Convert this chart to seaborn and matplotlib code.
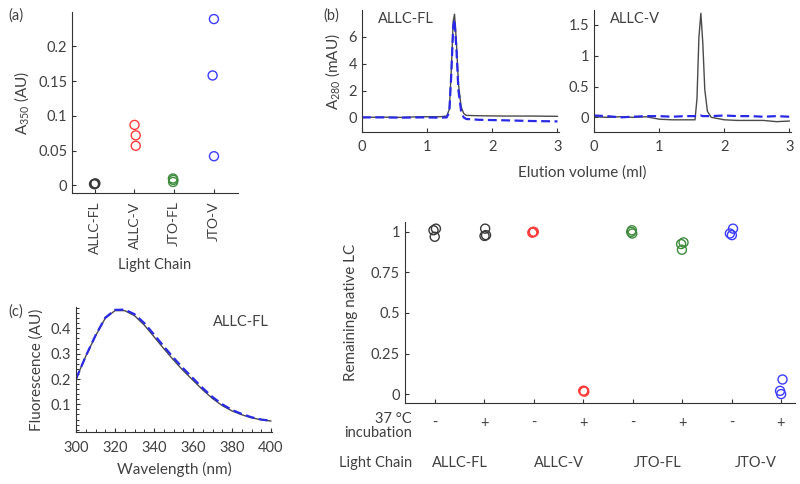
import numpy as np
import pandas as pd
import seaborn as sns
import matplotlib.pyplot as plt
import matplotlib.transforms as mtransforms
from matplotlib.ticker import FuncFormatter, MultipleLocator

# Panel (a): turbidity (A350) per light chain
chains = ['ALLC-FL', 'ALLC-V', 'JTO-FL', 'JTO-V']
a350_allc_fl = [0.002, 0.003, 0.002]
a350_allc_v = [0.087, 0.072, 0.057]
a350_jto_fl = [0.005, 0.008, 0.010]
a350_jto_v = [0.239, 0.158, 0.042]

# Panel (b): SEC chromatograms
elu_fl = [0, 0.3, 0.6, 0.9, 1.2, 1.3, 1.34, 1.37, 1.40, 1.42, 1.45, 1.48,
          1.52, 1.56, 1.6, 1.8, 2.2, 2.6, 3.0]
fl_before = [0.0, 0.02, 0.0, 0.05, 0.05, 0.1, 0.6, 3.5, 7.2, 7.7, 5.5, 2.5,
             0.8, 0.3, 0.15, 0.12, 0.1, 0.1, 0.08]
fl_after = [0.0, 0.0, -0.02, 0.0, -0.02, 0.0, 0.4, 3.2, 6.8, 7.3, 5.0, 2.0,
            0.5, 0.0, -0.12, -0.18, -0.22, -0.27, -0.3]
elu_v = [0, 0.2, 0.4, 0.6, 0.8, 1.0, 1.2, 1.4, 1.55, 1.58, 1.61, 1.64, 1.67,
         1.70, 1.74, 1.8, 2.0, 2.2, 2.4, 2.6, 2.8, 3.0]
v_before = [0.01, 0.0, 0.01, 0.0, 0.01, -0.03, -0.04, -0.04, -0.04, 0.3, 1.3,
            1.69, 1.2, 0.45, 0.1, 0.0, -0.04, -0.05, -0.05, -0.05, -0.07, -0.06]
v_after = [0.03, 0.02, 0.0, 0.01, 0.02, 0.02, 0.01, 0.02, 0.02, 0.02, 0.02,
           0.03, 0.02, 0.02, 0.02, 0.02, 0.03, 0.02, 0.02, 0.01, 0.02, 0.01]

# Panel (c): intrinsic fluorescence of ALLC-FL
wavelength = [300, 305, 310, 315, 320, 325, 330, 335, 340, 345, 350, 355, 360,
              365, 370, 375, 380, 385, 390, 395, 400]
fluo_before = [0.200, 0.290, 0.370, 0.440, 0.470, 0.470, 0.450, 0.413, 0.367,
               0.320, 0.275, 0.233, 0.195, 0.157, 0.123, 0.095, 0.074, 0.059,
               0.047, 0.039, 0.034]
fluo_after = [0.200, 0.290, 0.372, 0.442, 0.473, 0.474, 0.456, 0.421, 0.376,
              0.329, 0.284, 0.242, 0.203, 0.164, 0.129, 0.100, 0.078, 0.062,
              0.049, 0.040, 0.035]

# Panel (d): remaining native LC after incubation
incubation = ['-', '+']
native_allc_fl = [[1.01, 1.02, 0.97], [1.02, 0.98, 0.975]]
native_allc_v = [[1.0, 0.995, 1.0], [0.02, 0.02, 0.015]]
native_jto_fl = [[0.99, 1.0, 1.01], [0.935, 0.925, 0.89]]
native_jto_v = [[1.02, 0.99, 0.98], [0.09, 0.02, 0.0]]

colors = {'ALLC-FL': '#3a3a3a', 'ALLC-V': '#ff3c3c',
          'JTO-FL': '#3d8b3d', 'JTO-V': '#3c3cff'}
text_color = '#404040'

sns.set_style('ticks')
plt.rcParams['font.family'] = ['Lato', 'DejaVu Sans']
plt.rcParams['mathtext.default'] = 'regular'
plt.rcParams['font.size'] = 10.5
plt.rcParams['axes.labelsize'] = 11
plt.rcParams['text.color'] = text_color
plt.rcParams['axes.labelcolor'] = text_color
plt.rcParams['xtick.color'] = '#333333'
plt.rcParams['ytick.color'] = '#333333'
plt.rcParams['xtick.labelcolor'] = text_color
plt.rcParams['ytick.labelcolor'] = text_color
plt.rcParams['axes.edgecolor'] = '#333333'

fmt = FuncFormatter(lambda v, p: f'{v:g}')


def style_axis(ax):
    sns.despine(ax=ax)
    ax.tick_params(direction='in', length=3, width=0.8, labelsize=10.5)


def hollow(ax):
    for coll in ax.collections:
        fc = coll.get_facecolors()
        coll.set_edgecolors(fc)
        coll.set_facecolors('none')
        coll.set_linewidth(1.0)


fig = plt.figure(figsize=(8, 4.84), dpi=100)

# ---- (a)
ax_a = fig.add_axes([0.09, 0.601, 0.2075, 0.374])
df_a = pd.DataFrame({
    'chain': np.repeat(chains, 3),
    'a350': a350_allc_fl + a350_allc_v + a350_jto_fl + a350_jto_v,
})
np.random.seed(3)
sns.stripplot(data=df_a, x='chain', y='a350', hue='chain', order=chains,
              palette=colors, jitter=0.04, size=6.5, legend=False, ax=ax_a)
hollow(ax_a)
ax_a.set_xlim(-0.57, 3.6)
ax_a.set_ylim(-0.011, 0.249)
ax_a.set_yticks([0, 0.05, 0.1, 0.15, 0.2])
ax_a.yaxis.set_major_formatter(fmt)
style_axis(ax_a)
ax_a.tick_params(axis='x', rotation=90, pad=6, labelsize=10)
ax_a.set_xlabel('')
ax_a.set_ylabel('A$_{350}$ (AU)')
ax_a.yaxis.set_label_coords(-0.245, 0.5)
fig.text(155 / 800, 1 - 265 / 484, 'Light Chain', ha='center', va='center')
fig.text(8 / 800, 1 - 16 / 484, '(a)', ha='left', va='center')

# ---- (b)
ax_b1 = fig.add_axes([0.4525, 0.727, 0.246, 0.252])
ax_b2 = fig.add_axes([0.7425, 0.727, 0.246, 0.252])
for ax, x, yb, ya, label, ylim in [
        (ax_b1, elu_fl, fl_before, fl_after, 'ALLC-FL', (-1.1, 8.0)),
        (ax_b2, elu_v, v_before, v_after, 'ALLC-V', (-0.24, 1.74))]:
    sns.lineplot(x=x, y=yb, ax=ax, color='#4a4a4a', lw=1.0)
    sns.lineplot(x=x, y=ya, ax=ax, color='#2a2ae6', lw=1.6, ls=(0, (4, 2)))
    ax.set_xlim(0, 3.02)
    ax.set_ylim(*ylim)
    ax.set_xticks([0, 1, 2, 3])
    ax.yaxis.set_major_formatter(fmt)
    style_axis(ax)
    ax.tick_params(axis='x', pad=6)
    ax.text(0.08, 0.93, label, transform=ax.transAxes, ha='left', va='center')
ax_b1.set_yticks([0, 2, 4, 6])
ax_b2.set_yticks([0, 0.5, 1, 1.5])
ax_b1.set_ylabel('A$_{280}$ (mAU)')
ax_b1.yaxis.set_label_coords(-0.10, 0.5)
fig.text(582 / 800, 1 - 173 / 484, 'Elution volume (ml)', ha='center',
         va='center', fontsize=11)
fig.text(323 / 800, 1 - 16 / 484, '(b)', ha='left', va='center')

# ---- (c)
ax_c = fig.add_axes([0.095, 0.107, 0.245, 0.258])
sns.lineplot(x=wavelength, y=fluo_before, ax=ax_c, color='#4a4a4a', lw=1.0)
sns.lineplot(x=wavelength, y=fluo_after, ax=ax_c, color='#2a2ae6', lw=1.6,
             ls=(0, (4, 2)))
ax_c.set_xlim(300, 400.5)
ax_c.set_ylim(-0.01, 0.483)
ax_c.set_xticks([300, 320, 340, 360, 380, 400])
ax_c.set_yticks([0.1, 0.2, 0.3, 0.4])
ax_c.xaxis.set_minor_locator(MultipleLocator(5))
ax_c.yaxis.set_minor_locator(MultipleLocator(0.02))
ax_c.yaxis.set_major_formatter(fmt)
style_axis(ax_c)
ax_c.tick_params(which='minor', direction='in', length=2, width=0.7)
ax_c.tick_params(axis='x', pad=6)
ax_c.set_xlabel('Wavelength (nm)')
ax_c.set_ylabel('Fluorescence (AU)')
ax_c.xaxis.set_label_coords(0.5, -0.24)
ax_c.yaxis.set_label_coords(-0.163, 0.5)
ax_c.text(0.70, 0.88, 'ALLC-FL', transform=ax_c.transAxes, ha='left', va='center')
fig.text(8 / 800, 1 - 312 / 484, '(c)', ha='left', va='center')

# ---- (d)
ax_d = fig.add_axes([0.506, 0.167, 0.4875, 0.374])
rows = []
for chain, vals in zip(chains, [native_allc_fl, native_allc_v,
                                native_jto_fl, native_jto_v]):
    for inc, reps in zip(incubation, vals):
        for v in reps:
            rows.append({'chain': chain, 'cond': f'{chain} {inc}', 'native': v})
df_d = pd.DataFrame(rows)
cond_order = [f'{c} {i}' for c in chains for i in incubation]
np.random.seed(7)
sns.stripplot(data=df_d, x='cond', y='native', hue='chain', order=cond_order,
              palette=colors, jitter=0.035, size=6.5, legend=False, ax=ax_d)
hollow(ax_d)
ax_d.set_xlim(-0.61, 7.28)
ax_d.set_ylim(-0.056, 1.06)
ax_d.set_yticks([0, 0.25, 0.5, 0.75, 1])
ax_d.yaxis.set_major_formatter(fmt)
ax_d.set_xticks(range(len(cond_order)))
ax_d.set_xticklabels(incubation * len(chains))
style_axis(ax_d)
ax_d.tick_params(axis='x', pad=9)
ax_d.set_xlabel('')
ax_d.set_ylabel('Remaining native LC')
ax_d.yaxis.set_label_coords(-0.12, 0.5)
trans = mtransforms.blended_transform_factory(ax_d.transData, ax_d.transAxes)
for i, chain in enumerate(chains):
    ax_d.text(2 * i + 0.5, -0.33, chain, transform=trans, ha='center', va='center')
ax_d.text(0.018, -0.125, '37 °C\nincubation', transform=ax_d.transAxes,
          ha='right', va='center', multialignment='right', linespacing=0.95)
ax_d.text(0.018, -0.33, 'Light Chain', transform=ax_d.transAxes,
          ha='right', va='center')

fig.savefig('out.png', dpi=100)
